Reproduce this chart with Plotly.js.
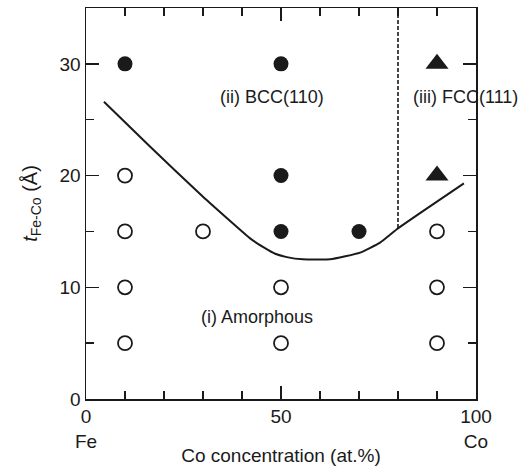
<!DOCTYPE html>
<html><head><meta charset="utf-8">
<script src="https://cdn.plot.ly/plotly-3.0.1.min.js"></script>
<style>html,body{margin:0;padding:0;background:#fff;}#chart{width:530px;height:466px;}</style>
</head><body><div id="chart"></div>
<script>
// Data
const bccX = [10, 50, 50, 50, 70];
const bccY = [30, 30, 20, 15, 15];
const amorphX = [10, 10, 10, 10, 30, 50, 50, 90, 90, 90];
const amorphY = [20, 15, 10, 5, 15, 10, 5, 15, 10, 5];
const fccX = [90, 90];
const fccY = [30, 20];
const boundaryX = [4.6, 16.4, 30, 42, 45.9, 48.5, 51.5, 55.6, 62.6, 70.3, 75.4, 79.7, 88, 96.9];
const boundaryY = [26.6, 22.6, 18.1, 14.4, 13.5, 13.0, 12.7, 12.5, 12.5, 13.1, 14.0, 15.2, 17.2, 19.3];
const dashX = [80, 80];
const dashY = [35, 15.3];
const xTickVals = [0, 50, 100];
const xTickText = ['0<br>Fe', '50', '100<br>Co'];
const yTickVals = [0, 10, 20, 30];
const yTickText = ['0', '10', '20', '30'];

const ink = '#1a1a1a';
const traces = [
  {x: boundaryX, y: boundaryY, mode: 'lines', line: {color: ink, width: 2, shape: 'spline', smoothing: 0.4}, hoverinfo: 'skip'},
  {x: dashX, y: dashY, mode: 'lines', line: {color: ink, width: 1.6, dash: '4px,2px'}, hoverinfo: 'skip'},
  {x: amorphX, y: amorphY, mode: 'markers', marker: {symbol: 'circle-open', size: 14, color: ink, line: {width: 1.8, color: ink}}},
  {x: bccX, y: bccY, mode: 'markers', marker: {symbol: 'circle', size: 15, color: ink}},
  {x: fccX, y: fccY, mode: 'markers', marker: {symbol: 'triangle-up', size: 20, color: ink}}
];

const fam = 'Liberation Sans, Arial, sans-serif';
const font = {family: fam, size: 19, color: ink};
const titleFontY = {family: fam, size: 20, color: ink};
const annFont = {family: fam, size: 18, color: ink};
const layout = {
  width: 530, height: 466,
  margin: {l: 86, r: 54, t: 8, b: 67},
  showlegend: false,
  paper_bgcolor: '#fff', plot_bgcolor: '#fff',
  font: font,
  xaxis: {
    range: [0, 100], showgrid: false, zeroline: false,
    showline: true, linecolor: ink, linewidth: 1.5, mirror: 'ticks',
    ticks: 'inside', ticklen: 13, tickwidth: 1.5, tickcolor: ink,
    tickmode: 'array', tickvals: xTickVals, ticktext: xTickText,
    tickfont: font,
    minor: {dtick: 10, ticks: 'inside', ticklen: 8, tickwidth: 1.5, tickcolor: ink, showgrid: false},
    title: {text: 'Co concentration (at.%)', font: font, standoff: 5}
  },
  yaxis: {
    range: [0, 35], showgrid: false, zeroline: false,
    showline: true, linecolor: ink, linewidth: 1.5, mirror: 'ticks',
    ticks: 'inside', ticklen: 13, tickwidth: 1.5, tickcolor: ink,
    tickmode: 'array', tickvals: yTickVals, ticktext: yTickText,
    tickfont: font,
    minor: {dtick: 5, ticks: 'inside', ticklen: 8, tickwidth: 1.5, tickcolor: ink, showgrid: false},
    title: {text: '<i>t</i><sub>Fe-Co</sub> (Å)', font: titleFontY, standoff: 16}
  },
  annotations: [
    {x: 47.7, y: 27.0, text: '(ii) BCC(110)', showarrow: false, font: annFont, xref: 'x', yref: 'y'},
    {x: 97.2, y: 27.0, text: '(iii) FCC(111)', showarrow: false, font: annFont, xref: 'x', yref: 'y'},
    {x: 43.8, y: 7.3, text: '(i) Amorphous', showarrow: false, font: annFont, xref: 'x', yref: 'y'}
  ]
};
Plotly.newPlot('chart', traces, layout, {staticPlot: true, displayModeBar: false});
</script>
</body></html>
